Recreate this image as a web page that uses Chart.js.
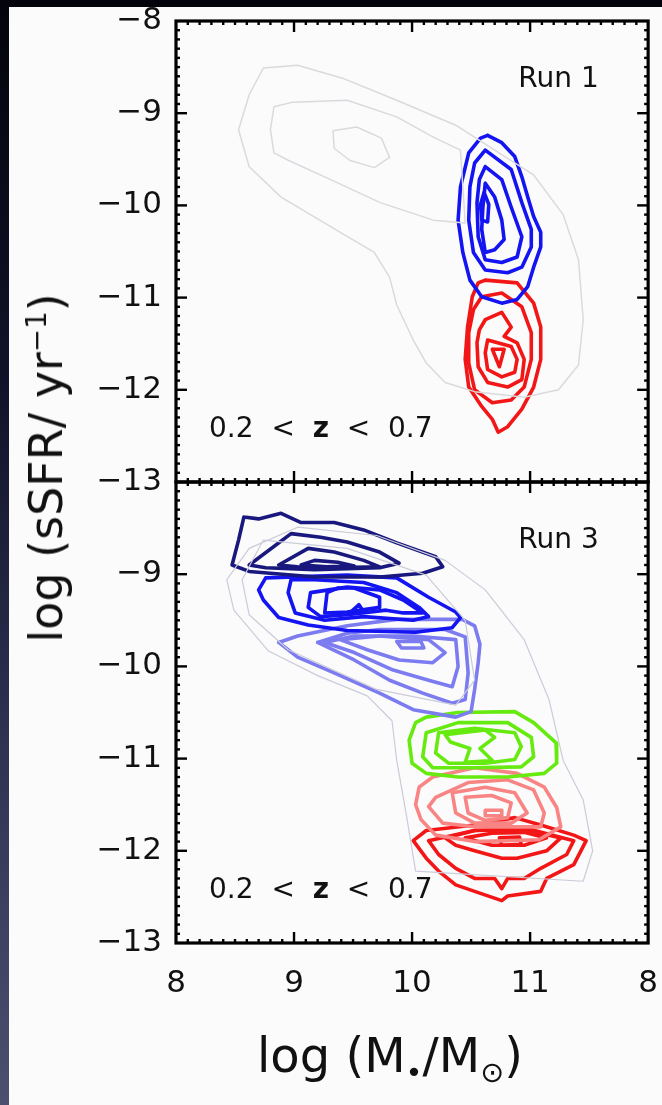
<!DOCTYPE html>
<html>
<head>
<meta charset="utf-8">
<script src="https://cdn.jsdelivr.net/npm/chart.js@4.4.1/dist/chart.umd.min.js"></script>
<style>
  html, body { margin: 0; padding: 0; width: 662px; height: 1105px; overflow: hidden; }
  body {
    position: relative;
    background: linear-gradient(to bottom, #03040b 0%, #11132a 35%, #363a5a 75%, #4c506f 100%);
    font-family: "DejaVu Sans", sans-serif;
  }
  #sheet { position: absolute; left: 9px; top: 7px; right: 0; bottom: 0; background: #fbfbfc; }
  #wrap { position: absolute; left: 0; top: 0; width: 680px; height: 1105px; }
  .ytitle {
    position: absolute; left: 46px; top: 468px;
    transform: translate(-50%, -50%) rotate(-90deg);
    font-size: 46px; white-space: nowrap; color: #111;
  }
  .xtitle {
    position: absolute; left: 390px; top: 1058px;
    transform: translate(-50%, -50%);
    font-size: 48px; white-space: nowrap; color: #111;
  }
  sup, sub { font-size: 60%; }
</style>
</head>
<body>
<div id="sheet"></div>
<div id="wrap"><canvas id="ssfr"></canvas></div>
<div class="ytitle">log (sSFR/ yr<sup>−1</sup>)</div>
<div class="xtitle">log (M<sub>•</sub>/M<sub>⊙</sub>)</div>
<script>
// axis ticks
const xTicks = [8, 9, 10, 11, 12];
const xTickLabels = ['8', '9', '10', '11', '8'];
const yTicks = [-8, -9, -10, -11, -12, -13];

const panelNames = ['Run 1', 'Run 3'];
const zRange = ['0.2  <  ', 'z', '  <  0.7'];

// Run 1: all galaxies (grey), star-forming (blue), quiescent (red)
const run1Gray = [
  [[8.74,-8.51],[9.03,-8.48],[9.41,-8.62],[9.87,-8.86],[10.37,-9.13],[10.70,-9.40],[11.03,-9.67],[11.28,-10.10],[11.41,-10.59],[11.45,-11.24],[11.41,-11.73],[11.24,-12.00],[10.95,-12.08],[10.53,-12.02],[10.28,-11.92],[10.12,-11.71],[10.01,-11.46],[9.87,-11.08],[9.81,-10.78],[9.68,-10.51],[9.31,-10.23],[8.89,-9.91],[8.62,-9.58],[8.53,-9.18],[8.62,-8.80]],
  [[8.83,-8.93],[8.99,-8.88],[9.45,-8.86],[9.87,-9.04],[10.18,-9.26],[10.41,-9.40],[10.45,-10.19],[10.18,-10.16],[9.73,-9.97],[9.31,-9.72],[8.95,-9.51],[8.83,-9.43],[8.80,-9.18]],
  [[9.33,-9.19],[9.53,-9.15],[9.74,-9.27],[9.81,-9.48],[9.68,-9.59],[9.47,-9.51],[9.34,-9.38]]
];
const run1Blue = [
  [[10.64,-9.24],[10.76,-9.32],[10.87,-9.47],[10.93,-9.69],[10.98,-9.91],[11.03,-10.12],[11.09,-10.29],[11.09,-10.45],[11.03,-10.67],[10.98,-10.88],[10.89,-11.02],[10.76,-11.06],[10.59,-10.99],[10.49,-10.81],[10.43,-10.51],[10.39,-10.16],[10.41,-9.80],[10.48,-9.43],[10.58,-9.27]],
  [[10.62,-9.40],[10.84,-9.61],[10.93,-9.97],[11.01,-10.26],[11.01,-10.45],[10.93,-10.67],[10.81,-10.73],[10.62,-10.70],[10.52,-10.51],[10.48,-10.16],[10.49,-9.80],[10.53,-9.54]],
  [[10.62,-9.58],[10.76,-9.72],[10.84,-10.02],[10.93,-10.34],[10.89,-10.56],[10.76,-10.62],[10.62,-10.59],[10.56,-10.34],[10.55,-9.97],[10.57,-9.72]],
  [[10.62,-9.76],[10.70,-9.91],[10.76,-10.16],[10.78,-10.37],[10.70,-10.48],[10.62,-10.51],[10.59,-10.26],[10.60,-10.02]],
  [[10.61,-9.86],[10.65,-9.99],[10.64,-10.18],[10.59,-10.16],[10.58,-9.99]]
];
const run1Red = [
  [[10.62,-10.81],[10.89,-10.84],[11.03,-11.06],[11.09,-11.32],[11.09,-11.67],[11.03,-11.97],[10.93,-12.21],[10.81,-12.40],[10.73,-12.46],[10.68,-12.32],[10.59,-12.18],[10.48,-11.97],[10.45,-11.67],[10.47,-11.32],[10.51,-10.99],[10.56,-10.84]],
  [[10.59,-10.99],[10.76,-10.95],[10.93,-11.10],[11.01,-11.38],[11.01,-11.67],[10.95,-11.97],[10.84,-12.11],[10.68,-12.14],[10.53,-12.00],[10.48,-11.71],[10.48,-11.38],[10.52,-11.13]],
  [[10.62,-11.24],[10.76,-11.16],[10.84,-11.32],[10.78,-11.42],[10.89,-11.49],[10.95,-11.67],[10.93,-11.89],[10.81,-11.97],[10.64,-11.92],[10.56,-11.75],[10.55,-11.49],[10.57,-11.35]],
  [[10.64,-11.46],[10.84,-11.53],[10.89,-11.67],[10.87,-11.81],[10.76,-11.86],[10.64,-11.78],[10.62,-11.60]],
  [[10.68,-11.56],[10.78,-11.56],[10.74,-11.75]]
];

// Run 3: six sSFR classes
const run3Gray = [
  [[8.62,-8.72],[9.03,-8.49],[9.70,-8.58],[10.28,-8.85],[10.62,-9.17],[10.95,-9.71],[11.16,-10.36],[11.28,-11.02],[11.45,-11.45],[11.53,-12.00],[11.45,-12.33],[10.03,-12.22],[9.95,-11.60],[9.87,-11.02],[9.83,-10.59],[9.62,-10.32],[9.20,-10.10],[8.78,-9.83],[8.49,-9.39],[8.43,-9.06]],
  [[8.74,-8.63],[9.45,-8.72],[10.12,-9.01],[10.45,-9.50],[10.53,-10.15],[10.37,-10.42],[9.70,-10.25],[8.95,-9.82],[8.62,-9.44],[8.56,-9.06]]
];
const run3Navy = [
  [[8.575,-8.38],[8.70,-8.40],[8.89,-8.34],[9.06,-8.44],[9.34,-8.44],[9.59,-8.52],[9.87,-8.66],[10.20,-8.81],[10.26,-8.92],[10.09,-8.99],[9.73,-9.03],[9.18,-9.03],[8.62,-8.97],[8.475,-8.90],[8.53,-8.63]],
  [[8.62,-8.90],[8.975,-8.56],[9.225,-8.60],[9.45,-8.65],[9.725,-8.76],[9.89,-8.88],[9.725,-8.93],[9.175,-8.95],[8.76,-8.93]],
  [[8.87,-8.90],[9.12,-8.72],[9.34,-8.76],[9.59,-8.85],[9.725,-8.92],[9.31,-8.93],[9.03,-8.92]],
  [[9.06,-8.90],[9.175,-8.85],[9.37,-8.87],[9.51,-8.91],[9.28,-8.92]]
];
const run3Blue = [
  [[8.76,-9.04],[9.45,-9.01],[9.87,-9.04],[10.14,-9.25],[10.37,-9.41],[10.41,-9.47],[10.34,-9.58],[10.03,-9.63],[9.45,-9.61],[9.12,-9.55],[8.87,-9.47],[8.74,-9.28],[8.70,-9.17]],
  [[8.975,-9.06],[8.95,-9.20],[9.01,-9.42],[9.26,-9.50],[9.59,-9.46],[10.01,-9.50],[10.14,-9.46],[10.06,-9.36],[9.87,-9.20],[9.59,-9.09],[9.175,-9.06]],
  [[9.14,-9.20],[9.12,-9.36],[9.225,-9.46],[9.45,-9.44],[9.78,-9.39],[9.925,-9.42],[10.09,-9.42],[9.925,-9.28],[9.725,-9.17],[9.45,-9.14]],
  [[9.28,-9.20],[9.26,-9.42],[9.45,-9.41],[9.725,-9.36],[9.725,-9.25],[9.51,-9.15],[9.37,-9.15]],
  [[9.49,-9.40],[9.55,-9.33],[9.59,-9.41]]
];
const run3Light = [
  [[8.87,-9.74],[9.03,-9.67],[9.45,-9.56],[9.87,-9.49],[10.425,-9.49],[10.53,-9.56],[10.575,-9.76],[10.56,-9.96],[10.53,-10.25],[10.50,-10.49],[10.37,-10.55],[10.01,-10.47],[9.725,-10.29],[9.34,-10.07],[9.03,-9.90]],
  [[9.20,-9.74],[9.45,-9.64],[9.725,-9.60],[10.28,-9.60],[10.45,-9.68],[10.475,-10.07],[10.45,-10.36],[10.34,-10.40],[10.09,-10.29],[9.81,-10.15],[9.51,-9.93]],
  [[9.26,-9.74],[9.51,-9.67],[10.01,-9.67],[10.37,-9.71],[10.39,-10.00],[10.34,-10.22],[10.14,-10.15],[9.84,-10.04],[9.51,-9.85]],
  [[9.39,-9.71],[9.725,-9.67],[10.14,-9.71],[10.28,-9.85],[10.175,-9.96],[9.89,-9.93],[9.62,-9.82]],
  [[9.87,-9.73],[10.075,-9.73],[10.10,-9.80],[9.91,-9.80]]
];
const run3Green = [
  [[10.12,-10.55],[10.39,-10.50],[10.87,-10.49],[11.03,-10.61],[11.22,-10.83],[11.225,-11.05],[11.12,-11.16],[10.81,-11.20],[10.39,-11.20],[10.12,-11.16],[10.00,-11.05],[9.975,-10.80],[10.03,-10.61]],
  [[10.12,-10.72],[10.39,-10.61],[10.81,-10.61],[11.01,-10.77],[11.03,-10.98],[10.925,-11.09],[10.53,-11.10],[10.175,-11.10],[10.09,-10.98]],
  [[10.225,-10.72],[10.53,-10.67],[10.87,-10.72],[10.925,-10.87],[10.87,-11.01],[10.62,-11.05],[10.31,-11.05],[10.20,-10.94]],
  [[10.28,-10.74],[10.62,-10.69],[10.70,-10.77],[10.575,-10.89],[10.68,-11.02],[10.45,-11.04],[10.49,-10.89],[10.325,-10.82]]
];
const run3Pink = [
  [[10.06,-11.31],[10.175,-11.20],[10.53,-11.10],[10.89,-11.16],[11.12,-11.31],[11.225,-11.53],[11.26,-11.74],[11.075,-11.88],[10.53,-11.90],[10.20,-11.83],[10.075,-11.66],[10.03,-11.50]],
  [[10.20,-11.42],[10.475,-11.26],[10.81,-11.23],[11.03,-11.34],[11.12,-11.59],[11.09,-11.74],[10.81,-11.74],[10.53,-11.74],[10.26,-11.70],[10.14,-11.52]],
  [[10.34,-11.37],[10.62,-11.31],[10.87,-11.37],[10.975,-11.59],[10.84,-11.70],[10.53,-11.70],[10.37,-11.59]],
  [[10.45,-11.42],[10.675,-11.40],[10.84,-11.48],[10.81,-11.64],[10.62,-11.67],[10.475,-11.59]],
  [[10.62,-11.56],[10.76,-11.56],[10.76,-11.62],[10.62,-11.62]]
];
const run3Red = [
  [[10.01,-11.89],[10.12,-11.78],[10.53,-11.72],[10.87,-11.64],[11.09,-11.72],[11.37,-11.83],[11.475,-11.89],[11.37,-12.15],[11.14,-12.30],[11.09,-12.44],[10.81,-12.49],[10.76,-12.54],[10.53,-12.44],[10.37,-12.37],[10.225,-12.22],[10.12,-12.08]],
  [[10.14,-11.89],[10.53,-11.78],[10.95,-11.75],[11.37,-11.89],[11.31,-12.04],[11.09,-12.19],[10.95,-12.30],[10.81,-12.30],[10.76,-12.41],[10.70,-12.30],[10.53,-12.30],[10.37,-12.19],[10.225,-12.04]],
  [[10.28,-11.86],[10.53,-11.78],[10.95,-11.77],[11.26,-11.86],[11.14,-12.00],[10.89,-12.08],[10.76,-12.08],[10.53,-12.00],[10.37,-11.94]],
  [[10.45,-11.86],[10.675,-11.81],[10.95,-11.80],[11.14,-11.86],[10.95,-11.94],[10.675,-11.94]],
  [[10.74,-11.86],[10.91,-11.85],[10.925,-11.93],[10.76,-11.94]]
];

const FONT = '"DejaVu Sans", sans-serif';

// one closed polyline dataset per contour ring
function rings(list, color, width, axis) {
  return list.map(r => ({
    data: r.concat([r[0]]).map(([x, y]) => ({ x, y })),
    yAxisID: axis,
    borderColor: color,
    borderWidth: width,
    borderJoinStyle: 'round',
    borderCapStyle: 'round',
    showLine: true,
    pointRadius: 0,
    fill: false,
    tension: 0
  }));
}

const datasets = [].concat(
  rings(run1Gray, '#dadade', 1.5, 'yTop'),
  rings(run1Blue, '#1414f2', 3.6, 'yTop'),
  rings(run1Red, '#f31616', 3.6, 'yTop'),
  rings(run3Gray, '#cbcbd9', 1.2, 'yBot'),
  rings(run3Navy, '#18187e', 3.6, 'yBot'),
  rings(run3Blue, '#1414f2', 3.6, 'yBot'),
  rings(run3Light, '#7c7cf0', 3.6, 'yBot'),
  rings(run3Green, '#66ea10', 3.6, 'yBot'),
  rings(run3Pink, '#f88484', 3.6, 'yBot'),
  rings(run3Red, '#f31616', 3.6, 'yBot')
);

// boxed panels with inward major/minor ticks on all four sides, plus panel labels
const framePlugin = {
  id: 'frame',
  afterDatasetsDraw(chart) {
    const { ctx, scales } = chart;
    const x = scales.x;
    const seg = (x0, y0, x1, y1) => { ctx.beginPath(); ctx.moveTo(x0, y0); ctx.lineTo(x1, y1); ctx.stroke(); };
    ctx.save();
    ctx.strokeStyle = '#000';
    ctx.fillStyle = '#111';
    ['yTop', 'yBot'].forEach((id, k) => {
      const y = scales[id];
      const l = x.left, r = x.right, t = y.top, b = y.bottom;
      ctx.lineWidth = 2.4;
      for (let i = 1; i < 40; i++) {
        const px = x.getPixelForValue(8 + i / 10);
        const len = i % 10 === 0 ? 11 : 4;
        seg(px, t, px, t + len);
        seg(px, b, px, b - len);
      }
      for (let i = 1; i < 50; i++) {
        const py = y.getPixelForValue(-13 + i / 10);
        const len = i % 10 === 0 ? 11 : 4;
        seg(l, py, l + len, py);
        seg(r, py, r - len, py);
      }
      ctx.lineWidth = 3.2;
      ctx.strokeRect(l, t, r - l, b - t);

      ctx.textBaseline = 'middle';
      ctx.textAlign = 'left';
      ctx.font = '28px ' + FONT;
      ctx.fillText(panelNames[k], x.getPixelForValue(10.9), y.getPixelForValue(-8.64));
      let tx = x.getPixelForValue(8.28);
      const ty = y.getPixelForValue(-12.43);
      zRange.forEach((part, j) => {
        ctx.font = (j === 1 ? 'bold ' : '') + '28px ' + FONT;
        ctx.fillText(part, tx, ty);
        tx += ctx.measureText(part).width;
      });
    });
    ctx.restore();
  }
};

const yAxis = (hideTop) => ({
  type: 'linear',
  position: 'left',
  stack: 'panels',
  stackWeight: 1,
  min: -13,
  max: -8,
  afterFit: s => { s.width = 176; s.paddingTop = 0; s.paddingBottom = 0; },
  afterBuildTicks: s => { s.ticks = yTicks.map(v => ({ value: v })); },
  grid: { display: false, drawTicks: false },
  border: { display: false },
  ticks: {
    padding: 14,
    autoSkip: false,
    color: '#111',
    font: { family: FONT, size: 31 },
    callback: v => (hideTop && v === -8) ? '' : '−' + Math.abs(v)
  }
});

new Chart(document.getElementById('ssfr'), {
  type: 'scatter',
  data: { datasets },
  options: {
    responsive: true,
    maintainAspectRatio: false,
    animation: false,
    events: [],
    layout: { padding: { left: 0, top: 21, right: 24, bottom: 100 } },
    plugins: { legend: { display: false }, tooltip: { enabled: false } },
    scales: {
      x: {
        type: 'linear',
        position: 'bottom',
        min: 8,
        max: 12,
        afterFit: s => { s.height = 62; },
        afterBuildTicks: s => { s.ticks = xTicks.map(v => ({ value: v })); },
        grid: { display: false, drawTicks: false },
        border: { display: false },
        ticks: {
          padding: 22,
          autoSkip: false,
          maxRotation: 0,
          color: '#111',
          font: { family: FONT, size: 31 },
          callback: v => xTickLabels[xTicks.indexOf(v)]
        }
      },
      // the later stacked axis is laid out on top
      yBot: yAxis(true),
      yTop: yAxis(false)
    }
  },
  plugins: [framePlugin]
});
</script>
</body>
</html>
